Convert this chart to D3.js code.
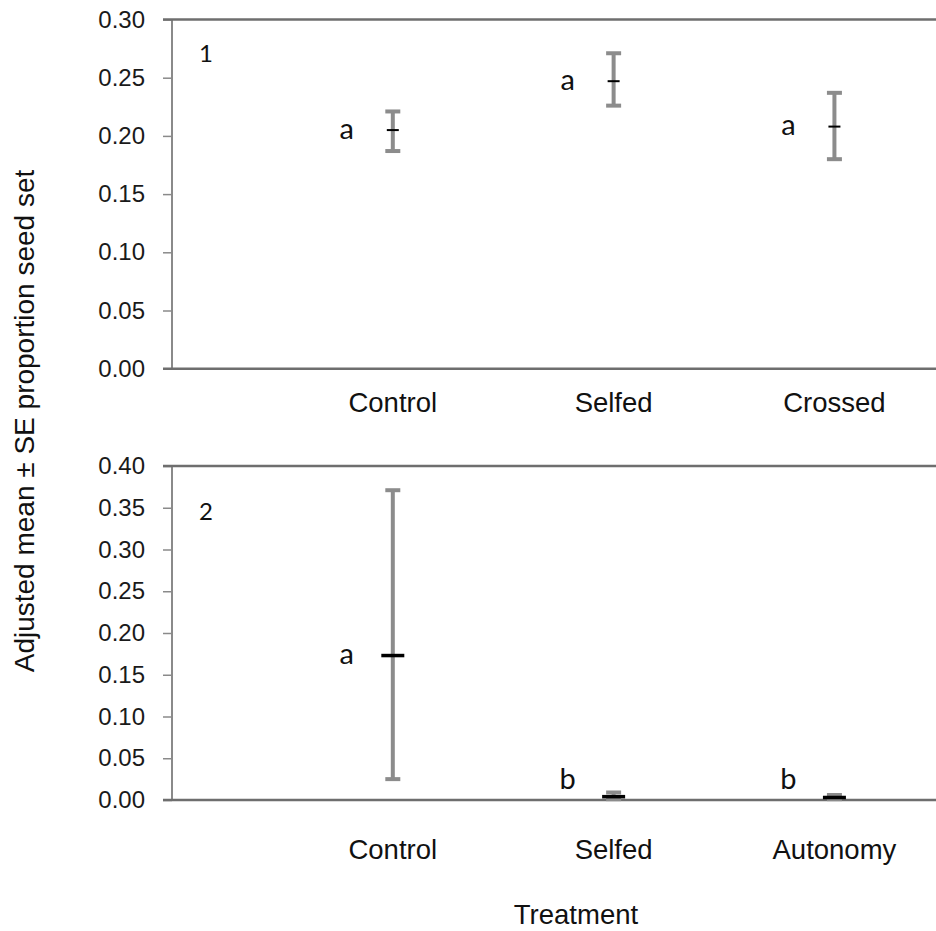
<!DOCTYPE html>
<html>
<head>
<meta charset="utf-8">
<script src="https://cdn.jsdelivr.net/npm/d3@7"></script>
<style>
  body { margin: 0; background: #fff; }
  svg { display: block; }
  .tick text { font-family: 'Liberation Sans', Arial, sans-serif; font-size: 24px; fill: #1a1a1a; }
  .lbl { font-family: 'Liberation Sans', Arial, sans-serif; font-size: 27.5px; fill: #111; }
  .title { font-family: 'Liberation Sans', Arial, sans-serif; font-size: 28px; fill: #111; }
  .letter { font-family: Lato, 'Open Sans', sans-serif; fill: #111; }
</style>
</head>
<body>
<div class="vis"></div>
<script>
// panel 1
const categories1 = ['Control', 'Selfed', 'Crossed']
const means1 = [0.205, 0.247, 0.208]
const upper1 = [0.221, 0.271, 0.237]
const lower1 = [0.187, 0.226, 0.180]
const letters1 = ['a', 'a', 'a']
const ticks1 = [0, 0.05, 0.1, 0.15, 0.2, 0.25, 0.3]

// panel 2
const categories2 = ['Control', 'Selfed', 'Autonomy']
const means2 = [0.173, 0.004, 0.003]
const upper2 = [0.371, 0.009, 0.006]
const lower2 = [0.025, 0.001, 0.001]
const letters2 = ['a', 'b', 'b']
const ticks2 = [0, 0.05, 0.1, 0.15, 0.2, 0.25, 0.3, 0.35, 0.4]

const width = 936
const height = 931
const left = 172

const svg = d3
  .select('.vis')
  .append('svg')
  .attr('width', width)
  .attr('height', height)

// categories sit at 1, 2, 3; the right side of the chart is cut off
const x = d3.scaleLinear().domain([0, 3.46]).range([left, width])

const panels = [
  {
    name: '1', top: 19.5, bottom: 368.7, max: 0.3, ticks: ticks1,
    categories: categories1, means: means1, upper: upper1, lower: lower1, letters: letters1,
    labelY: 412, nameY: 62, meanW: 12, meanH: 2
  },
  {
    name: '2', top: 466, bottom: 800, max: 0.4, ticks: ticks2,
    categories: categories2, means: means2, upper: upper2, lower: lower2, letters: letters2,
    labelY: 859, nameY: 520, meanW: 23, meanH: 3.5
  }
]

panels.forEach(p => {
  const y = d3.scaleLinear().domain([0, p.max]).range([p.bottom, p.top])
  const g = svg.append('g')

  const yAxis = d3
    .axisLeft(y)
    .tickValues(p.ticks)
    .tickSize(9)
    .tickPadding(18)
    .tickFormat(d3.format('.2f'))

  g.append('g')
    .attr('class', 'y axis')
    .attr('transform', `translate(${left},0)`)
    .call(yAxis)
    .call(a => a.select('.domain').remove())
    .call(a => a.selectAll('.tick line').attr('stroke', '#8a8a8a').attr('stroke-width', 1.5))

  // frame: left, top and bottom lines
  g.append('line')
    .attr('x1', left).attr('x2', left)
    .attr('y1', p.top).attr('y2', p.bottom)
    .attr('stroke', '#8a8a8a').attr('stroke-width', 2)
  g.append('line')
    .attr('x1', left - 9).attr('x2', width)
    .attr('y1', p.top).attr('y2', p.top)
    .attr('stroke', '#6e6e6e').attr('stroke-width', 2.5)
  g.append('line')
    .attr('x1', left - 9).attr('x2', width)
    .attr('y1', p.bottom).attr('y2', p.bottom)
    .attr('stroke', '#6e6e6e').attr('stroke-width', 2.5)

  const rows = p.categories.map((c, i) => ({
    c, i, mean: p.means[i], hi: p.upper[i], lo: p.lower[i], letter: p.letters[i]
  }))

  const pts = g.selectAll('.pt').data(rows).enter().append('g').attr('class', 'pt')

  // error bars
  pts.append('line')
    .attr('x1', d => x(d.i + 1)).attr('x2', d => x(d.i + 1))
    .attr('y1', d => y(d.hi)).attr('y2', d => y(d.lo))
    .attr('stroke', '#8c8c8c').attr('stroke-width', 4)
  pts.selectAll('.cap')
    .data(d => [d.hi, d.lo].map(v => ({ i: d.i, v })))
    .enter().append('line')
    .attr('class', 'cap')
    .attr('x1', d => x(d.i + 1) - 7.5).attr('x2', d => x(d.i + 1) + 7.5)
    .attr('y1', d => y(d.v)).attr('y2', d => y(d.v))
    .attr('stroke', '#8c8c8c').attr('stroke-width', 4)

  // mean markers
  pts.append('line')
    .attr('x1', d => x(d.i + 1) - p.meanW / 2).attr('x2', d => x(d.i + 1) + p.meanW / 2)
    .attr('y1', d => y(d.mean)).attr('y2', d => y(d.mean))
    .attr('stroke', '#000').attr('stroke-width', p.meanH)

  // significance letters
  pts.append('text')
    .attr('class', 'letter')
    .attr('x', d => x(d.i + 1) - 46)
    .attr('y', d => Math.min(y(d.mean), p.bottom - 20))
    .attr('dy', '0.3em')
    .attr('text-anchor', 'middle')
    .style('font-size', '29px')
    .text(d => d.letter)

  // category labels
  g.selectAll('.cat')
    .data(p.categories)
    .enter().append('text')
    .attr('class', 'lbl')
    .attr('x', (d, i) => x(i + 1))
    .attr('y', p.labelY)
    .attr('text-anchor', 'middle')
    .text(d => d)

  g.append('text')
    .attr('class', 'letter')
    .attr('x', 206)
    .attr('y', p.nameY)
    .attr('text-anchor', 'middle')
    .style('font-size', '24px')
    .text(p.name)
})

svg.append('text')
  .attr('class', 'title')
  .attr('transform', 'translate(34,421) rotate(-90)')
  .attr('text-anchor', 'middle')
  .text('Adjusted mean ± SE proportion seed set')

svg.append('text')
  .attr('class', 'lbl')
  .attr('x', 576)
  .attr('y', 924)
  .attr('text-anchor', 'middle')
  .text('Treatment')
</script>
</body>
</html>
